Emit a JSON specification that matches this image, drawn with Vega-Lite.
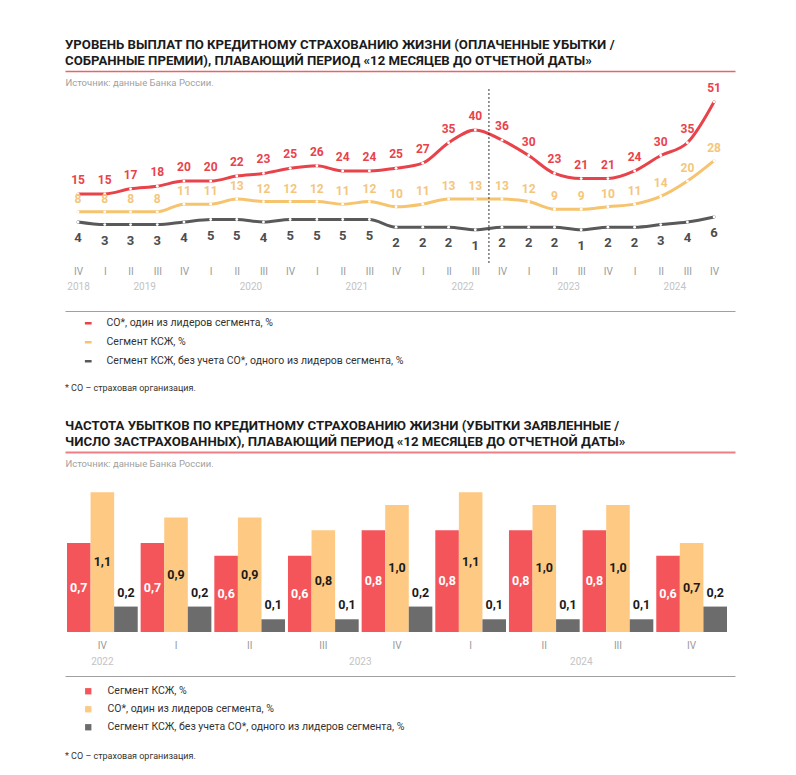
{
"$schema": "https://vega.github.io/schema/vega-lite/v6.json",
"padding": {"left": 65, "top": 37, "right": 10, "bottom": 5},
"spacing": 25,
"config": {
  "font": "Roboto",
  "view": {"stroke": null},
  "locale": {"number": {"decimal": ",", "thousands": " ", "grouping": [3], "currency": ["", " ₽"]}},
  "title": {"font": "Roboto", "fontSize": 13.2, "fontWeight": "bold", "color": "#1b1b1b", "anchor": "start", "lineHeight": 16, "offset": 3},
  "axis": {"grid": false, "ticks": false, "domain": false, "labelFont": "Roboto", "labelOverlap": false, "labelFlush": false},
  "legend": {"labelFont": "Roboto", "titleFont": "Roboto", "labelFontSize": 10.5, "labelColor": "#333333", "titleFontWeight": "normal", "titleFontSize": 9, "titleColor": "#333333", "titleOrient": "bottom", "titleAnchor": "start", "orient": "bottom", "direction": "vertical", "padding": 0, "labelLimit": 600}
},
"resolve": {"scale": {"x": "independent", "y": "independent", "color": "independent"}, "legend": {"color": "independent"}},
"datasets": {
  "lines": [
    {"q": "2018-11-15T00:00", "series": "СО*, один из лидеров сегмента, %", "v": 15},
    {"q": "2019-02-15T00:00", "series": "СО*, один из лидеров сегмента, %", "v": 15},
    {"q": "2019-05-15T00:00", "series": "СО*, один из лидеров сегмента, %", "v": 17},
    {"q": "2019-08-15T00:00", "series": "СО*, один из лидеров сегмента, %", "v": 18},
    {"q": "2019-11-15T00:00", "series": "СО*, один из лидеров сегмента, %", "v": 20},
    {"q": "2020-02-15T00:00", "series": "СО*, один из лидеров сегмента, %", "v": 20},
    {"q": "2020-05-15T00:00", "series": "СО*, один из лидеров сегмента, %", "v": 22},
    {"q": "2020-08-15T00:00", "series": "СО*, один из лидеров сегмента, %", "v": 23},
    {"q": "2020-11-15T00:00", "series": "СО*, один из лидеров сегмента, %", "v": 25},
    {"q": "2021-02-15T00:00", "series": "СО*, один из лидеров сегмента, %", "v": 26},
    {"q": "2021-05-15T00:00", "series": "СО*, один из лидеров сегмента, %", "v": 24},
    {"q": "2021-08-15T00:00", "series": "СО*, один из лидеров сегмента, %", "v": 24},
    {"q": "2021-11-15T00:00", "series": "СО*, один из лидеров сегмента, %", "v": 25},
    {"q": "2022-02-15T00:00", "series": "СО*, один из лидеров сегмента, %", "v": 27},
    {"q": "2022-05-15T00:00", "series": "СО*, один из лидеров сегмента, %", "v": 35},
    {"q": "2022-08-15T00:00", "series": "СО*, один из лидеров сегмента, %", "v": 40},
    {"q": "2022-11-15T00:00", "series": "СО*, один из лидеров сегмента, %", "v": 36},
    {"q": "2023-02-15T00:00", "series": "СО*, один из лидеров сегмента, %", "v": 30},
    {"q": "2023-05-15T00:00", "series": "СО*, один из лидеров сегмента, %", "v": 23},
    {"q": "2023-08-15T00:00", "series": "СО*, один из лидеров сегмента, %", "v": 21},
    {"q": "2023-11-15T00:00", "series": "СО*, один из лидеров сегмента, %", "v": 21},
    {"q": "2024-02-15T00:00", "series": "СО*, один из лидеров сегмента, %", "v": 24},
    {"q": "2024-05-15T00:00", "series": "СО*, один из лидеров сегмента, %", "v": 30},
    {"q": "2024-08-15T00:00", "series": "СО*, один из лидеров сегмента, %", "v": 35},
    {"q": "2024-11-15T00:00", "series": "СО*, один из лидеров сегмента, %", "v": 51},
    {"q": "2018-11-15T00:00", "series": "Сегмент КСЖ, %", "v": 8},
    {"q": "2019-02-15T00:00", "series": "Сегмент КСЖ, %", "v": 8},
    {"q": "2019-05-15T00:00", "series": "Сегмент КСЖ, %", "v": 8},
    {"q": "2019-08-15T00:00", "series": "Сегмент КСЖ, %", "v": 8},
    {"q": "2019-11-15T00:00", "series": "Сегмент КСЖ, %", "v": 11},
    {"q": "2020-02-15T00:00", "series": "Сегмент КСЖ, %", "v": 11},
    {"q": "2020-05-15T00:00", "series": "Сегмент КСЖ, %", "v": 13},
    {"q": "2020-08-15T00:00", "series": "Сегмент КСЖ, %", "v": 12},
    {"q": "2020-11-15T00:00", "series": "Сегмент КСЖ, %", "v": 12},
    {"q": "2021-02-15T00:00", "series": "Сегмент КСЖ, %", "v": 12},
    {"q": "2021-05-15T00:00", "series": "Сегмент КСЖ, %", "v": 11},
    {"q": "2021-08-15T00:00", "series": "Сегмент КСЖ, %", "v": 12},
    {"q": "2021-11-15T00:00", "series": "Сегмент КСЖ, %", "v": 10},
    {"q": "2022-02-15T00:00", "series": "Сегмент КСЖ, %", "v": 11},
    {"q": "2022-05-15T00:00", "series": "Сегмент КСЖ, %", "v": 13},
    {"q": "2022-08-15T00:00", "series": "Сегмент КСЖ, %", "v": 13},
    {"q": "2022-11-15T00:00", "series": "Сегмент КСЖ, %", "v": 13},
    {"q": "2023-02-15T00:00", "series": "Сегмент КСЖ, %", "v": 12},
    {"q": "2023-05-15T00:00", "series": "Сегмент КСЖ, %", "v": 9},
    {"q": "2023-08-15T00:00", "series": "Сегмент КСЖ, %", "v": 9},
    {"q": "2023-11-15T00:00", "series": "Сегмент КСЖ, %", "v": 10},
    {"q": "2024-02-15T00:00", "series": "Сегмент КСЖ, %", "v": 11},
    {"q": "2024-05-15T00:00", "series": "Сегмент КСЖ, %", "v": 14},
    {"q": "2024-08-15T00:00", "series": "Сегмент КСЖ, %", "v": 20},
    {"q": "2024-11-15T00:00", "series": "Сегмент КСЖ, %", "v": 28},
    {"q": "2018-11-15T00:00", "series": "Сегмент КСЖ, без учета СО*, одного из лидеров сегмента, %", "v": 4},
    {"q": "2019-02-15T00:00", "series": "Сегмент КСЖ, без учета СО*, одного из лидеров сегмента, %", "v": 3},
    {"q": "2019-05-15T00:00", "series": "Сегмент КСЖ, без учета СО*, одного из лидеров сегмента, %", "v": 3},
    {"q": "2019-08-15T00:00", "series": "Сегмент КСЖ, без учета СО*, одного из лидеров сегмента, %", "v": 3},
    {"q": "2019-11-15T00:00", "series": "Сегмент КСЖ, без учета СО*, одного из лидеров сегмента, %", "v": 4},
    {"q": "2020-02-15T00:00", "series": "Сегмент КСЖ, без учета СО*, одного из лидеров сегмента, %", "v": 5},
    {"q": "2020-05-15T00:00", "series": "Сегмент КСЖ, без учета СО*, одного из лидеров сегмента, %", "v": 5},
    {"q": "2020-08-15T00:00", "series": "Сегмент КСЖ, без учета СО*, одного из лидеров сегмента, %", "v": 4},
    {"q": "2020-11-15T00:00", "series": "Сегмент КСЖ, без учета СО*, одного из лидеров сегмента, %", "v": 5},
    {"q": "2021-02-15T00:00", "series": "Сегмент КСЖ, без учета СО*, одного из лидеров сегмента, %", "v": 5},
    {"q": "2021-05-15T00:00", "series": "Сегмент КСЖ, без учета СО*, одного из лидеров сегмента, %", "v": 5},
    {"q": "2021-08-15T00:00", "series": "Сегмент КСЖ, без учета СО*, одного из лидеров сегмента, %", "v": 5},
    {"q": "2021-11-15T00:00", "series": "Сегмент КСЖ, без учета СО*, одного из лидеров сегмента, %", "v": 2},
    {"q": "2022-02-15T00:00", "series": "Сегмент КСЖ, без учета СО*, одного из лидеров сегмента, %", "v": 2},
    {"q": "2022-05-15T00:00", "series": "Сегмент КСЖ, без учета СО*, одного из лидеров сегмента, %", "v": 2},
    {"q": "2022-08-15T00:00", "series": "Сегмент КСЖ, без учета СО*, одного из лидеров сегмента, %", "v": 1},
    {"q": "2022-11-15T00:00", "series": "Сегмент КСЖ, без учета СО*, одного из лидеров сегмента, %", "v": 2},
    {"q": "2023-02-15T00:00", "series": "Сегмент КСЖ, без учета СО*, одного из лидеров сегмента, %", "v": 2},
    {"q": "2023-05-15T00:00", "series": "Сегмент КСЖ, без учета СО*, одного из лидеров сегмента, %", "v": 2},
    {"q": "2023-08-15T00:00", "series": "Сегмент КСЖ, без учета СО*, одного из лидеров сегмента, %", "v": 1},
    {"q": "2023-11-15T00:00", "series": "Сегмент КСЖ, без учета СО*, одного из лидеров сегмента, %", "v": 2},
    {"q": "2024-02-15T00:00", "series": "Сегмент КСЖ, без учета СО*, одного из лидеров сегмента, %", "v": 2},
    {"q": "2024-05-15T00:00", "series": "Сегмент КСЖ, без учета СО*, одного из лидеров сегмента, %", "v": 3},
    {"q": "2024-08-15T00:00", "series": "Сегмент КСЖ, без учета СО*, одного из лидеров сегмента, %", "v": 4},
    {"q": "2024-11-15T00:00", "series": "Сегмент КСЖ, без учета СО*, одного из лидеров сегмента, %", "v": 6}
  ],
  "bars": [
    {"q": "IV 2022", "seg": "Сегмент КСЖ, %", "v": 0.7},
    {"q": "I 2023", "seg": "Сегмент КСЖ, %", "v": 0.7},
    {"q": "II 2023", "seg": "Сегмент КСЖ, %", "v": 0.6},
    {"q": "III 2023", "seg": "Сегмент КСЖ, %", "v": 0.6},
    {"q": "IV 2023", "seg": "Сегмент КСЖ, %", "v": 0.8},
    {"q": "I 2024", "seg": "Сегмент КСЖ, %", "v": 0.8},
    {"q": "II 2024", "seg": "Сегмент КСЖ, %", "v": 0.8},
    {"q": "III 2024", "seg": "Сегмент КСЖ, %", "v": 0.8},
    {"q": "IV 2024", "seg": "Сегмент КСЖ, %", "v": 0.6},
    {"q": "IV 2022", "seg": "СО*, один из лидеров сегмента, %", "v": 1.1},
    {"q": "I 2023", "seg": "СО*, один из лидеров сегмента, %", "v": 0.9},
    {"q": "II 2023", "seg": "СО*, один из лидеров сегмента, %", "v": 0.9},
    {"q": "III 2023", "seg": "СО*, один из лидеров сегмента, %", "v": 0.8},
    {"q": "IV 2023", "seg": "СО*, один из лидеров сегмента, %", "v": 1.0},
    {"q": "I 2024", "seg": "СО*, один из лидеров сегмента, %", "v": 1.1},
    {"q": "II 2024", "seg": "СО*, один из лидеров сегмента, %", "v": 1.0},
    {"q": "III 2024", "seg": "СО*, один из лидеров сегмента, %", "v": 1.0},
    {"q": "IV 2024", "seg": "СО*, один из лидеров сегмента, %", "v": 0.7},
    {"q": "IV 2022", "seg": "Сегмент КСЖ, без учета СО*, одного из лидеров сегмента, %", "v": 0.2},
    {"q": "I 2023", "seg": "Сегмент КСЖ, без учета СО*, одного из лидеров сегмента, %", "v": 0.2},
    {"q": "II 2023", "seg": "Сегмент КСЖ, без учета СО*, одного из лидеров сегмента, %", "v": 0.1},
    {"q": "III 2023", "seg": "Сегмент КСЖ, без учета СО*, одного из лидеров сегмента, %", "v": 0.1},
    {"q": "IV 2023", "seg": "Сегмент КСЖ, без учета СО*, одного из лидеров сегмента, %", "v": 0.2},
    {"q": "I 2024", "seg": "Сегмент КСЖ, без учета СО*, одного из лидеров сегмента, %", "v": 0.1},
    {"q": "II 2024", "seg": "Сегмент КСЖ, без учета СО*, одного из лидеров сегмента, %", "v": 0.1},
    {"q": "III 2024", "seg": "Сегмент КСЖ, без учета СО*, одного из лидеров сегмента, %", "v": 0.1},
    {"q": "IV 2024", "seg": "Сегмент КСЖ, без учета СО*, одного из лидеров сегмента, %", "v": 0.2}
  ]
},
"vconcat": [
  {
    "title": {"text": ["УРОВЕНЬ ВЫПЛАТ ПО КРЕДИТНОМУ СТРАХОВАНИЮ ЖИЗНИ (ОПЛАЧЕННЫЕ УБЫТКИ /", "СОБРАННЫЕ ПРЕМИИ), ПЛАВАЮЩИЙ ПЕРИОД «12 МЕСЯЦЕВ ДО ОТЧЕТНОЙ ДАТЫ»"]},
    "width": 670,
    "height": 174,
    "data": {"name": "lines"},
    "encoding": {
      "x": {"field": "q", "type": "temporal", "scale": {"domain": [{"year": 2018, "month": 10, "date": 1}, {"year": 2025, "month": 1, "date": 26}]}, "axis": null},
      "y": {"field": "v", "type": "quantitative", "scale": {"domain": [-12, 56]}, "axis": null}
    },
    "resolve": {"axis": {"x": "independent"}},
    "layer": [
      {
        "mark": {"type": "line", "interpolate": "monotone", "strokeWidth": 3, "strokeCap": "round"},
        "encoding": {
          "x": {"field": "q", "type": "temporal", "scale": {"domain": [{"year": 2018, "month": 10, "date": 1}, {"year": 2025, "month": 1, "date": 26}]},
            "axis": {"orient": "bottom", "title": null, "values": [
              {"year": 2018, "month": 11, "date": 15},
              {"year": 2019, "month": 2, "date": 15}, {"year": 2019, "month": 5, "date": 15}, {"year": 2019, "month": 8, "date": 15}, {"year": 2019, "month": 11, "date": 15},
              {"year": 2020, "month": 2, "date": 15}, {"year": 2020, "month": 5, "date": 15}, {"year": 2020, "month": 8, "date": 15}, {"year": 2020, "month": 11, "date": 15},
              {"year": 2021, "month": 2, "date": 15}, {"year": 2021, "month": 5, "date": 15}, {"year": 2021, "month": 8, "date": 15}, {"year": 2021, "month": 11, "date": 15},
              {"year": 2022, "month": 2, "date": 15}, {"year": 2022, "month": 5, "date": 15}, {"year": 2022, "month": 8, "date": 15}, {"year": 2022, "month": 11, "date": 15},
              {"year": 2023, "month": 2, "date": 15}, {"year": 2023, "month": 5, "date": 15}, {"year": 2023, "month": 8, "date": 15}, {"year": 2023, "month": 11, "date": 15},
              {"year": 2024, "month": 2, "date": 15}, {"year": 2024, "month": 5, "date": 15}, {"year": 2024, "month": 8, "date": 15}, {"year": 2024, "month": 11, "date": 15}
            ],
            "labelExpr": "month(datum.value)==1?'I':month(datum.value)==4?'II':month(datum.value)==7?'III':'IV'",
            "labelPadding": 3, "labelColor": "#9a9a9a", "labelFontSize": 10}},
          "color": {"field": "series", "type": "nominal",
            "scale": {"domain": ["СО*, один из лидеров сегмента, %", "Сегмент КСЖ, %", "Сегмент КСЖ, без учета СО*, одного из лидеров сегмента, %"], "range": ["#E8434B", "#F6C36E", "#595959"]},
            "legend": {"title": "* СО – страховая организация.", "symbolType": "stroke", "symbolStrokeWidth": 2.5, "symbolSize": 45, "symbolOffset": 18, "labelOffset": 13, "rowPadding": 8, "titlePadding": 17, "offset": 7}}
        }
      },
      {
        "mark": {"type": "point", "filled": true, "color": "white", "size": 8, "opacity": 1},
        "encoding": {
          "x": {"field": "q", "type": "temporal", "scale": {"domain": [{"year": 2018, "month": 10, "date": 1}, {"year": 2025, "month": 1, "date": 26}]},
            "axis": {"orient": "bottom", "title": null, "values": [
              {"year": 2018, "month": 11, "date": 15}, {"year": 2019, "month": 7, "date": 1}, {"year": 2020, "month": 7, "date": 1}, {"year": 2021, "month": 7, "date": 1},
              {"year": 2022, "month": 7, "date": 1}, {"year": 2023, "month": 7, "date": 1}, {"year": 2024, "month": 7, "date": 1}],
              "format": "%Y", "offset": 15, "labelPadding": 3, "labelColor": "#c3c3c3", "labelFontSize": 10}}
        }
      },
      {
        "transform": [{"filter": {"field": "series", "equal": "СО*, один из лидеров сегмента, %"}}],
        "mark": {"type": "text", "dy": -14, "fontSize": 12, "fontWeight": "bold", "color": "#E8434B"},
        "encoding": {
          "x": {"field": "q", "type": "temporal", "scale": {"domain": [{"year": 2018, "month": 10, "date": 1}, {"year": 2025, "month": 1, "date": 26}]},
            "axis": {"orient": "bottom", "title": null, "labels": false, "domain": true, "domainColor": "#a0a0a0", "domainWidth": 1, "offset": 48}},
          "text": {"field": "v", "type": "quantitative"}
        }
      },
      {
        "transform": [{"filter": {"field": "series", "equal": "Сегмент КСЖ, %"}}],
        "mark": {"type": "text", "dy": -13, "fontSize": 12, "fontWeight": "bold", "color": "#F4C67C"},
        "encoding": {
          "x": {"field": "q", "type": "temporal", "scale": {"domain": [{"year": 2018, "month": 10, "date": 1}, {"year": 2025, "month": 1, "date": 26}]},
            "axis": {"orient": "top", "labels": false, "domain": true, "domainColor": "#E8646C", "domainWidth": 1.5, "offset": 18,
              "title": "Источник: данные Банка России.", "titleX": 0, "titleY": 11, "titleAlign": "left", "titleAnchor": "start", "titleBaseline": "middle",
              "titleFontSize": 9.5, "titleFontWeight": "normal", "titleColor": "#a0a0a0", "titleFont": "Roboto"}},
          "text": {"field": "v", "type": "quantitative"}
        }
      },
      {
        "transform": [{"filter": {"field": "series", "equal": "Сегмент КСЖ, без учета СО*, одного из лидеров сегмента, %"}}],
        "mark": {"type": "text", "dy": 16, "fontSize": 13, "fontWeight": "bold", "color": "#4d4d4d"},
        "encoding": {"text": {"field": "v", "type": "quantitative"}}
      },
      {
        "data": {"values": [{"q": "2022-10-01T00:00", "event": "Вступление в силу\nУказания № 6139-У"}]},
        "mark": {"type": "rule", "strokeDash": [2, 2], "color": "#333333", "strokeWidth": 1},
        "encoding": {
          "x": {"field": "q", "type": "temporal", "scale": {"domain": [{"year": 2018, "month": 10, "date": 1}, {"year": 2025, "month": 1, "date": 26}]}, "axis": null},
          "y": null
        }
      },
      {
        "data": {"values": [{"q": "2022-10-01T00:00", "event": "Вступление в силу\nУказания № 6139-У"}]},
        "mark": {"type": "text", "align": "left", "baseline": "middle", "dx": 4, "fontSize": 10, "color": "#333333", "lineBreak": "\n", "lineHeight": 13},
        "encoding": {
          "x": {"field": "q", "type": "temporal", "scale": {"domain": [{"year": 2018, "month": 10, "date": 1}, {"year": 2025, "month": 1, "date": 26}]}, "axis": null},
          "y": {"datum": 54, "type": "quantitative"},
          "text": {"field": "event", "type": "nominal"}
        }
      }
    ]
  },
  {
    "title": {"text": ["ЧАСТОТА УБЫТКОВ ПО КРЕДИТНОМУ СТРАХОВАНИЮ ЖИЗНИ (УБЫТКИ ЗАЯВЛЕННЫЕ /", "ЧИСЛО ЗАСТРАХОВАННЫХ), ПЛАВАЮЩИЙ ПЕРИОД «12 МЕСЯЦЕВ ДО ОТЧЕТНОЙ ДАТЫ»"]},
    "width": 670,
    "height": 150,
    "data": {"name": "bars"},
    "encoding": {
      "x": {"field": "q", "type": "nominal", "scale": {"domain": ["IV 2022", "I 2023", "II 2023", "III 2023", "IV 2023", "I 2024", "II 2024", "III 2024", "IV 2024"], "paddingInner": 0.04, "paddingOuter": 0.068, "align": 0.2}, "axis": null},
      "xOffset": {"field": "seg", "type": "nominal", "scale": {"domain": ["Сегмент КСЖ, %", "СО*, один из лидеров сегмента, %", "Сегмент КСЖ, без учета СО*, одного из лидеров сегмента, %"], "paddingInner": 0, "paddingOuter": 0}}
    },
    "resolve": {"scale": {"y": "independent"}, "axis": {"x": "independent"}},
    "layer": [
      {
        "transform": [{"filter": {"field": "seg", "oneOf": ["Сегмент КСЖ, %", "СО*, один из лидеров сегмента, %"]}}],
        "mark": {"type": "bar"},
        "encoding": {
          "x": {"field": "q", "type": "nominal", "scale": {"domain": ["IV 2022", "I 2023", "II 2023", "III 2023", "IV 2023", "I 2024", "II 2024", "III 2024", "IV 2024"], "paddingInner": 0.04, "paddingOuter": 0.068, "align": 0.2},
            "axis": {"orient": "bottom", "title": null, "labelAngle": 0, "labelExpr": "split(datum.value, ' ')[0]", "labelPadding": 8, "labelColor": "#9a9a9a", "labelFontSize": 10}},
          "y": {"field": "v", "type": "quantitative", "scale": {"domain": [0, 1.18]}, "axis": null},
          "color": {"field": "seg", "type": "nominal",
            "scale": {"domain": ["Сегмент КСЖ, %", "СО*, один из лидеров сегмента, %", "Сегмент КСЖ, без учета СО*, одного из лидеров сегмента, %"], "range": ["#F4555B", "#FDC983", "#6C6C6C"]},
            "legend": {"title": "* СО – страховая организация.", "symbolType": "square", "symbolSize": 40, "symbolOffset": 18, "labelOffset": 14, "rowPadding": 7, "titlePadding": 19, "offset": 10}}
        }
      },
      {
        "transform": [{"filter": {"field": "seg", "equal": "Сегмент КСЖ, без учета СО*, одного из лидеров сегмента, %"}}],
        "mark": {"type": "bar"},
        "encoding": {
          "x": {"field": "q", "type": "nominal", "scale": {"domain": ["IV 2022", "I 2023", "II 2023", "III 2023", "IV 2023", "I 2024", "II 2024", "III 2024", "IV 2024"], "paddingInner": 0.04, "paddingOuter": 0.068, "align": 0.2},
            "axis": {"orient": "bottom", "title": null, "labelAngle": 0, "values": ["III 2023", "II 2024"], "labelOffset": 37, "labelExpr": "split(datum.value, ' ')[1]", "offset": 16, "labelPadding": 8, "labelColor": "#c3c3c3", "labelFontSize": 10}},
          "y": {"field": "v", "type": "quantitative", "scale": {"domain": [0, 1.18]}, "axis": null},
          "color": {"field": "seg", "type": "nominal",
            "scale": {"domain": ["Сегмент КСЖ, %", "СО*, один из лидеров сегмента, %", "Сегмент КСЖ, без учета СО*, одного из лидеров сегмента, %"], "range": ["#F4555B", "#FDC983", "#6C6C6C"]}}
        }
      },
      {
        "transform": [{"filter": {"field": "seg", "equal": "Сегмент КСЖ, %"}}],
        "mark": {"type": "text", "fontSize": 12.5, "fontWeight": "bold", "color": "white", "baseline": "middle"},
        "encoding": {
          "x": {"field": "q", "type": "nominal", "scale": {"domain": ["IV 2022", "I 2023", "II 2023", "III 2023", "IV 2023", "I 2024", "II 2024", "III 2024", "IV 2024"], "paddingInner": 0.04, "paddingOuter": 0.068, "align": 0.2},
            "axis": {"orient": "bottom", "title": null, "labelAngle": 0, "values": ["IV 2022"], "labelExpr": "split(datum.value, ' ')[1]", "offset": 16, "labelPadding": 8, "labelColor": "#c3c3c3", "labelFontSize": 10}},
          "y": {"field": "v", "type": "quantitative", "scale": {"domain": [0, 2.36]}, "axis": null},
          "text": {"field": "v", "type": "quantitative", "format": ".1f"}
        }
      },
      {
        "transform": [{"filter": {"field": "seg", "equal": "СО*, один из лидеров сегмента, %"}}],
        "mark": {"type": "text", "fontSize": 12.5, "fontWeight": "bold", "color": "#1a1a1a", "baseline": "middle"},
        "encoding": {
          "x": {"field": "q", "type": "nominal", "scale": {"domain": ["IV 2022", "I 2023", "II 2023", "III 2023", "IV 2023", "I 2024", "II 2024", "III 2024", "IV 2024"], "paddingInner": 0.04, "paddingOuter": 0.068, "align": 0.2},
            "axis": {"orient": "bottom", "title": null, "labels": false, "domain": true, "domainColor": "#a0a0a0", "domainWidth": 1, "offset": 44}},
          "y": {"field": "v", "type": "quantitative", "scale": {"domain": [0, 2.36]}, "axis": null},
          "text": {"field": "v", "type": "quantitative", "format": ".1f"}
        }
      },
      {
        "transform": [{"filter": {"field": "seg", "equal": "Сегмент КСЖ, без учета СО*, одного из лидеров сегмента, %"}}],
        "mark": {"type": "text", "fontSize": 12.5, "fontWeight": "bold", "color": "#1a1a1a", "baseline": "bottom", "dy": -7},
        "encoding": {
          "x": {"field": "q", "type": "nominal", "scale": {"domain": ["IV 2022", "I 2023", "II 2023", "III 2023", "IV 2023", "I 2024", "II 2024", "III 2024", "IV 2024"], "paddingInner": 0.04, "paddingOuter": 0.068, "align": 0.2},
            "axis": {"orient": "top", "labels": false, "domain": true, "domainColor": "#EE7F86", "domainWidth": 2, "offset": 30,
              "title": "Источник: данные Банка России.", "titleX": 0, "titleY": 11, "titleAlign": "left", "titleAnchor": "start", "titleBaseline": "middle",
              "titleFontSize": 9.5, "titleFontWeight": "normal", "titleColor": "#a0a0a0", "titleFont": "Roboto"}},
          "y": {"field": "v", "type": "quantitative", "scale": {"domain": [0, 1.18]}, "axis": null},
          "text": {"field": "v", "type": "quantitative", "format": ".1f"}
        }
      }
    ]
  }
]
}
